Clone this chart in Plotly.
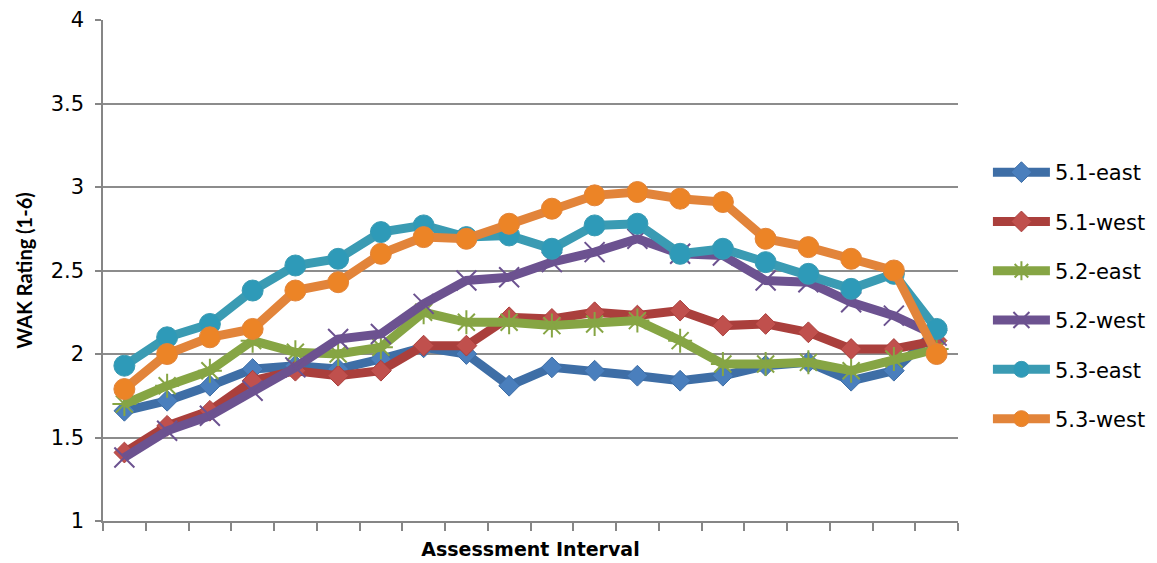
import plotly.graph_objects as go

categories = [str(i) for i in range(1, 21)]

s51_east = [1.66, 1.72, 1.81, 1.91, 1.93, 1.91, 1.97, 2.04, 2.00, 1.81, 1.92, 1.90, 1.87, 1.84, 1.87, 1.93, 1.95, 1.84, 1.90, 2.14]
s51_west = [1.41, 1.57, 1.66, 1.84, 1.90, 1.87, 1.90, 2.05, 2.05, 2.22, 2.21, 2.25, 2.23, 2.26, 2.17, 2.18, 2.13, 2.03, 2.03, 2.08]
s52_east = [1.70, 1.81, 1.90, 2.08, 2.01, 2.00, 2.04, 2.25, 2.19, 2.19, 2.17, 2.18, 2.20, 2.08, 1.94, 1.94, 1.95, 1.90, 1.97, 2.03]
s52_west = [1.38, 1.54, 1.63, 1.78, 1.92, 2.09, 2.12, 2.30, 2.44, 2.46, 2.55, 2.61, 2.69, 2.60, 2.59, 2.44, 2.43, 2.31, 2.23, 2.11]
s53_east = [1.93, 2.10, 2.18, 2.38, 2.53, 2.57, 2.73, 2.77, 2.70, 2.71, 2.63, 2.77, 2.78, 2.60, 2.63, 2.55, 2.48, 2.39, 2.48, 2.15]
s53_west = [1.79, 2.00, 2.10, 2.15, 2.38, 2.43, 2.60, 2.70, 2.69, 2.78, 2.87, 2.95, 2.97, 2.93, 2.91, 2.69, 2.64, 2.57, 2.50, 2.00]

series = [
    ("5.1-east", s51_east, "#3e6ea6", "#4a7fbd", "diamond", 16, 1),
    ("5.1-west", s51_west, "#aa3f3c", "#c0504d", "diamond", 16, 1),
    ("5.2-east", s52_east, "#86a544", "#86a544", "asterisk-open", 20, 2),
    ("5.2-west", s52_west, "#6c5290", "#6c5290", "x-thin-open", 20, 2),
    ("5.3-east", s53_east, "#3a9bb3", "#2e9ab8", "circle", 21, 1),
    ("5.3-west", s53_west, "#e2843a", "#ec8426", "circle", 21, 1),
]

WIDE = "'DejaVu Sans', sans-serif"

fig = go.Figure()
for name, vals, lc, mc, sym, sz, mlw in series:
    open_sym = sym.endswith("open")
    fig.add_trace(go.Scatter(
        x=categories, y=vals, name=name, mode="lines+markers",
        legendgroup=name,
        line=dict(color=lc, width=9),
        marker=dict(symbol=sym, size=sz, color=mc,
                    line=dict(color=mc if open_sym else lc, width=mlw)),
    ))

fig.update_layout(
    width=1157, height=563,
    margin=dict(l=95, r=207, t=12, b=50, autoexpand=False),
    paper_bgcolor="white", plot_bgcolor="white",
    font=dict(family=WIDE, size=21, color="#000000"),
    showlegend=True,
    legend=dict(x=1.035, xanchor="left", y=0.7365, yanchor="top",
                font=dict(family=WIDE, size=21, color="#000000"),
                tracegroupgap=19, traceorder="grouped",
                itemwidth=57),
    xaxis=dict(
        type="category", range=[-0.5, 19.5], automargin=False,
        showticklabels=False, ticks="outside", tickson="boundaries",
        ticklen=8, tickcolor="#868686", tickwidth=1.5,
        showline=True, linecolor="#868686", linewidth=1.5,
        showgrid=False, zeroline=False,
        title=dict(text="<b>Assessment Interval</b>",
                   font=dict(family=WIDE, size=19), standoff=21),
    ),
    yaxis=dict(
        range=[1, 4], automargin=False,
        tickvals=[1, 1.5, 2, 2.5, 3, 3.5, 4],
        ticktext=["1", "1.5", "2", "2.5", "3", "3.5", "4"],
        ticks="outside", ticklen=6, tickcolor="#868686", tickwidth=1.5,
        ticklabelstandoff=7,
        showline=True, linecolor="#868686", linewidth=1.5,
        showgrid=True, gridcolor="#8c8c8c", gridwidth=1.5,
        zeroline=False,
        tickfont=dict(family=WIDE, size=21, color="#000000"),
        title=dict(text="<b>WAK Rating (1-6)</b>",
                   font=dict(family="Lato, sans-serif", size=20, weight=900), standoff=13),
    ),
)

fig.write_html("out.html")
